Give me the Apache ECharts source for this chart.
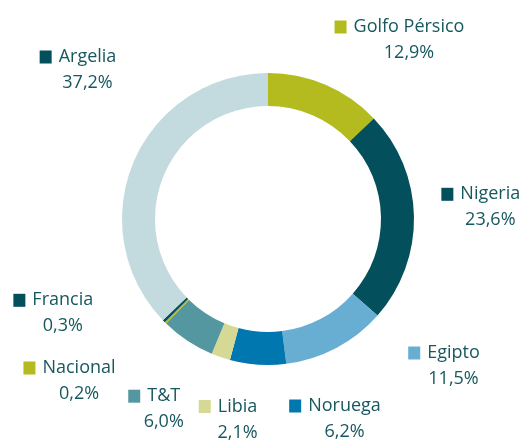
<!DOCTYPE html>
<html>
<head>
<meta charset="utf-8">
<script src="https://cdn.jsdelivr.net/npm/echarts@6/dist/echarts.min.js"></script>
<style>
html,body{margin:0;padding:0;background:#fff;}
#c{width:524px;height:441px;}
</style>
</head>
<body>
<div id="c"></div>
<script>
var categories = ['Golfo Pérsico','Nigeria','Egipto','Noruega','Libia','T&T','Nacional','Francia','Argelia'];
var values = [12.9, 23.6, 11.5, 6.2, 2.1, 6.0, 0.2, 0.3, 37.2];
var colors = ['#b3bb1f','#034f5c','#68aed3','#0077ae','#d6d994','#5597a0','#b3bb1f','#034f5c','#c3dadf'];
var markerColors = ['#b3bb1f','#034f5c','#68aed3','#0077ae','#d6d994','#5597a0','#b3bb1f','#034f5c','#034f5c'];
var labelPos = [[399.5,40],[480.8,207.3],[444,366],[335,419],[228,419.5],[154.2,409.2],[69.5,381],[53.3,313.3],[78,70]];

var textColor = '#17585f';
var chart = echarts.init(document.getElementById('c'), null, {renderer:'canvas'});
var data = categories.map(function(n,i){
  return {name:n, value:values[i], itemStyle:{color:colors[i]},
    label:{rich:{m:{width:12,height:13,backgroundColor:markerColors[i]}}}};
});
chart.setOption({
  animation:false,
  series:[{
    type:'pie',
    center:[268,219],
    radius:[113,146],
    startAngle:90,
    clockwise:true,
    avoidLabelOverlap:false,
    itemStyle:{borderWidth:0},
    labelLine:{show:false},
    emphasis:{disabled:true},
    label:{
      show:true,
      position:'outside',
      fontFamily:'Open Sans',
      fontSize:18,
      color:textColor,
      lineHeight:26,
      formatter:function(p){
        return '{m|}{n|' + p.name + '}\n{p|' + p.value.toFixed(1).replace('.', ',') + '%}';
      },
      rich:{
        n:{fontFamily:'Open Sans',fontSize:18,color:textColor,padding:[0,0,0,7],lineHeight:26},
        p:{fontFamily:'Open Sans',fontSize:18,color:textColor,padding:[0,0,0,19],lineHeight:26}
      }
    },
    labelLayout:function(params){
      var pos = labelPos[params.dataIndex];
      return {x:pos[0], y:pos[1], align:'center', verticalAlign:'middle'};
    },
    data:data
  }]
});
</script>
</body>
</html>
